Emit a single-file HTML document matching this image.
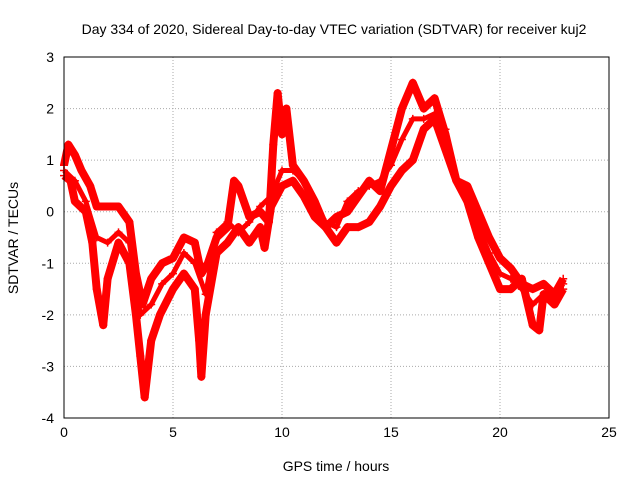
<!DOCTYPE html>
<html><head><meta charset="utf-8"><style>
body{margin:0;background:#fff}
svg{display:block;font-family:"Liberation Sans",sans-serif}
</style></head><body>
<svg id="chart" width="640" height="480" viewBox="0 0 640 480">
<text x="334" y="34" font-size="14" text-anchor="middle">Day 334 of 2020, Sidereal Day-to-day VTEC variation (SDTVAR) for receiver kuj2</text>
<text transform="translate(18,238) rotate(-90)" font-size="14" text-anchor="middle">SDTVAR / TECUs</text>
<text x="336" y="471" font-size="14" text-anchor="middle">GPS time / hours</text>
<g id="grid"></g><g id="ticks"></g><g id="series"></g>
<rect x="64" y="57" width="545" height="361" fill="none" stroke="#000" stroke-width="1"/>
</svg>
<script>
const xTicks=[0,5,10,15,20,25];
const yTicks=[-4,-3,-2,-1,0,1,2,3];
const upperTimes=[0,0.2,0.5,0.8,1.2,1.5,2,2.5,3,3.3,3.6,4,4.5,5,5.5,6,6.3,6.6,7,7.5,7.8,8,8.5,9,9.4,9.6,9.8,10,10.2,10.5,11,11.5,12,12.5,13,13.5,14,14.5,15,15.5,16,16.5,17,17.5,18,18.5,19,19.5,20,20.5,21,21.5,22,22.5,22.9];
const upperValues=[0.9,1.3,1.1,0.8,0.5,0.1,0.1,0.1,-0.2,-1.2,-1.8,-1.3,-1.0,-0.9,-0.5,-0.6,-1.2,-1.0,-0.5,-0.3,0.6,0.5,-0.1,0.0,-0.2,1.3,2.3,1.5,2.0,0.9,0.6,0.2,-0.3,-0.1,0.0,0.3,0.6,0.4,1.2,2.0,2.5,2.0,2.2,1.5,0.6,0.5,0.0,-0.5,-0.9,-1.1,-1.4,-1.5,-1.4,-1.6,-1.3];
const lowerTimes=[0,0.3,0.5,1,1.3,1.5,1.8,2,2.5,3,3.3,3.5,3.7,4,4.4,5,5.5,6,6.2,6.3,6.5,7,7.5,8,8.5,9,9.2,9.5,10,10.5,11,11.5,12,12.5,13,13.5,14,14.5,15,15.5,16,16.5,17,17.5,18,18.5,19,19.5,20,20.5,21,21.5,21.8,22,22.5,22.9];
const lowerValues=[0.7,0.6,0.2,0.0,-0.6,-1.5,-2.2,-1.3,-0.6,-1.0,-2.0,-2.8,-3.6,-2.5,-2.0,-1.5,-1.2,-1.5,-2.5,-3.2,-2.0,-0.8,-0.6,-0.3,-0.6,-0.3,-0.7,0.1,0.5,0.6,0.3,-0.1,-0.3,-0.6,-0.3,-0.3,-0.2,0.1,0.5,0.8,1.0,1.6,1.8,1.2,0.6,0.2,-0.5,-1.0,-1.5,-1.5,-1.3,-2.2,-2.3,-1.6,-1.8,-1.5];
const midTimes=[0,0.5,1,1.5,2,2.5,3,3.5,4,4.5,5,5.5,6,6.5,7,7.5,8,8.5,9,9.5,10,10.5,11,11.5,12,12.5,13,13.5,14,14.5,15,15.5,16,16.5,17,17.5,18,18.5,19,19.5,20,20.5,21,21.5,22,22.5,22.9];
const midValues=[0.8,0.6,0.2,-0.5,-0.6,-0.4,-0.6,-2.0,-1.8,-1.4,-1.2,-0.8,-1.0,-1.6,-0.4,-0.2,-0.4,-0.2,0.1,0.3,0.8,0.8,0.6,0.0,-0.2,-0.3,0.2,0.4,0.5,0.6,0.9,1.4,1.8,1.8,1.9,1.6,0.6,0.2,-0.3,-0.8,-1.2,-1.3,-1.5,-1.8,-1.6,-1.6,-1.4];
const NS='http://www.w3.org/2000/svg';
const X=t=>64+t*545/25, Y=v=>57+(3-v)*361/7;
const grid=document.getElementById('grid'),ticks=document.getElementById('ticks'),ser=document.getElementById('series');
function mk(tag,at,parent){const e=document.createElementNS(NS,tag);for(const k in at)e.setAttribute(k,at[k]);parent.appendChild(e);return e;}
xTicks.forEach(t=>{
 if(t>0&&t<25){const g=mk('line',{x1:X(t),x2:X(t),y1:57,y2:418,stroke:'#aaa','stroke-dasharray':'1,2'},grid);
 
 }
 const l=mk('text',{x:X(t),y:437,'font-size':14,'text-anchor':'middle'},ticks);l.textContent=t;
 
 
});
yTicks.forEach(v=>{
 if(v>-4&&v<3){const g=mk('line',{x1:64,x2:609,y1:Y(v),y2:Y(v),stroke:'#aaa','stroke-dasharray':'1,2'},grid);
 
 }
 const l=mk('text',{x:54,y:Y(v)+5,'font-size':14,'text-anchor':'end'},ticks);l.textContent=v;
 
 
});
function drawSeries(ts,vs,name,w){
 const pts=ts.map((t,i)=>X(t)+','+Y(vs[i])).join(' ');
 const pl=mk('polyline',{points:pts,fill:'none',stroke:'#f00','stroke-width':w,'stroke-linejoin':'round'},ser);
 
 
 ts.forEach((t,i)=>{const x=X(t),y=Y(vs[i]);
  const p=mk('path',{d:`M${x-4},${y}H${x+4}M${x},${y-4}V${y+4}`,stroke:'#f00','stroke-width':1.5},ser);
  
  });
}
drawSeries(midTimes,midValues,'middle-track',5);
drawSeries(upperTimes,upperValues,'upper-track',8);
drawSeries(lowerTimes,lowerValues,'lower-track',8);
</script>
</body></html>
